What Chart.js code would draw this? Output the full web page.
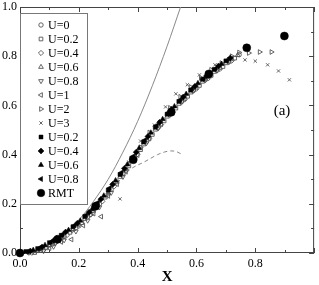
<!DOCTYPE html>
<html>
<head>
<meta charset="utf-8">
<script src="https://cdn.jsdelivr.net/npm/chart.js"></script>
<style>
  html, body { margin: 0; padding: 0; background: #fff; }
  canvas { display: block; }
</style>
</head>
<body>
<canvas id="chart" width="319" height="285"></canvas>
<script>
// ── tick labels ──────────────────────────────────────────────
const xTickLabels = ['0.0', '0.2', '0.4', '0.6', '0.8'];
const yTickLabels = ['0.0', '0.2', '0.4', '0.6', '0.8', '1.0'];

// ── open symbols ─────────────────────────────────────────────
const u0 = [[0.03,0.001],[0.07,0.012],[0.11,0.036],[0.15,0.067],[0.19,0.103],[0.23,0.147],[0.27,0.199],[0.31,0.258],[0.35,0.322],[0.39,0.388],[0.43,0.453],[0.47,0.511],[0.51,0.565],[0.55,0.616],[0.59,0.661],[0.63,0.704],[0.67,0.743],[0.71,0.777],[0.745,0.806]];
const u02 = [[0.05,0.002],[0.09,0.021],[0.13,0.050],[0.17,0.084],[0.21,0.123],[0.25,0.171],[0.29,0.227],[0.33,0.289],[0.37,0.354],[0.41,0.420],[0.45,0.482],[0.49,0.537],[0.53,0.589],[0.57,0.637],[0.61,0.681],[0.65,0.722],[0.69,0.758],[0.73,0.792]];
const u04 = [[0.04,0.001],[0.08,0.013],[0.12,0.040],[0.16,0.073],[0.20,0.110],[0.24,0.156],[0.28,0.210],[0.32,0.271],[0.36,0.336],[0.40,0.402],[0.44,0.466],[0.48,0.522],[0.52,0.574],[0.56,0.624],[0.60,0.668],[0.64,0.710],[0.68,0.748],[0.72,0.782]];
const u06 = [[0.06,0.009],[0.10,0.032],[0.14,0.062],[0.18,0.097],[0.22,0.138],[0.26,0.188],[0.30,0.246],[0.34,0.309],[0.38,0.375],[0.42,0.441],[0.46,0.501],[0.50,0.554],[0.54,0.606],[0.58,0.652],[0.62,0.696],[0.66,0.736],[0.70,0.771],[0.74,0.804]];
const u08 = [[0.08,0.008],[0.114,0.026],[0.15,0.052],[0.19,0.088],[0.23,0.132],[0.27,0.186],[0.31,0.245],[0.35,0.310],[0.39,0.378],[0.43,0.447],[0.47,0.507],[0.51,0.562],[0.55,0.614],[0.59,0.660],[0.63,0.703],[0.67,0.742],[0.71,0.777]];
const u1 = [[0.10,0.020],[0.14,0.045],[0.175,0.055],[0.215,0.112],[0.25,0.160],[0.276,0.148],[0.30,0.232],[0.33,0.280],[0.36,0.330],[0.40,0.398],[0.44,0.465],[0.48,0.524],[0.52,0.578],[0.56,0.628],[0.60,0.673],[0.64,0.716],[0.68,0.754],[0.72,0.790]];
const u2 = [[0.06,0.010],[0.12,0.042],[0.18,0.092],[0.24,0.155],[0.30,0.238],[0.36,0.340],[0.41,0.430],[0.44,0.490],[0.475,0.530],[0.51,0.590],[0.545,0.635],[0.58,0.675],[0.615,0.712],[0.65,0.745],[0.685,0.772],[0.72,0.800],[0.745,0.815],[0.778,0.813],[0.815,0.817],[0.855,0.817]];
const u3 = [[0.05,0.004],[0.10,0.025],[0.15,0.060],[0.20,0.110],[0.25,0.175],[0.30,0.245],[0.34,0.220],[0.37,0.370],[0.41,0.455],[0.457,0.520],[0.495,0.594],[0.53,0.647],[0.569,0.684],[0.61,0.724],[0.663,0.765],[0.71,0.790],[0.765,0.785],[0.80,0.780],[0.842,0.765],[0.879,0.740],[0.916,0.704]];

// ── filled symbols ───────────────────────────────────────────
const f02 = [[0.02,0.006],[0.06,0.018],[0.10,0.042],[0.14,0.072],[0.18,0.107],[0.22,0.148],[0.26,0.198],[0.30,0.256],[0.34,0.319],[0.38,0.385],[0.42,0.451],[0.46,0.511],[0.50,0.564],[0.54,0.616],[0.58,0.662],[0.62,0.706],[0.66,0.746],[0.70,0.781]];
const f04 = [[0.035,0.008],[0.075,0.024],[0.115,0.051],[0.155,0.085],[0.195,0.121],[0.235,0.166],[0.275,0.219],[0.315,0.279],[0.355,0.344],[0.395,0.410],[0.435,0.474],[0.475,0.531],[0.515,0.584],[0.555,0.634],[0.595,0.678],[0.635,0.721],[0.675,0.760],[0.715,0.793]];
const f06 = [[0.045,0.012],[0.085,0.032],[0.125,0.060],[0.165,0.093],[0.205,0.131],[0.245,0.178],[0.285,0.233],[0.325,0.295],[0.365,0.360],[0.405,0.426],[0.445,0.489],[0.485,0.544],[0.525,0.596],[0.565,0.646],[0.605,0.690],[0.645,0.731],[0.685,0.768]];
const f08 = [[0.025,0.005],[0.065,0.020],[0.105,0.045],[0.145,0.076],[0.185,0.112],[0.225,0.154],[0.265,0.205],[0.305,0.264],[0.345,0.327],[0.385,0.393],[0.425,0.459],[0.465,0.518],[0.505,0.571],[0.545,0.622],[0.585,0.668],[0.625,0.710],[0.665,0.750],[0.705,0.784]];
const rmt = [[0,0],[0.128,0.056],[0.257,0.190],[0.385,0.379],[0.514,0.572],[0.642,0.728],[0.771,0.834],[0.899,0.882]];

// ── curves ───────────────────────────────────────────────────
const solidCurve = [[0,0],[0.05,0.008],[0.10,0.034],[0.15,0.076],[0.20,0.134],[0.25,0.210],[0.30,0.300],[0.35,0.410],[0.40,0.535],[0.45,0.680],[0.50,0.840],[0.546,1.0]];
const dashedCurve = [[0.28,0.225],[0.32,0.272],[0.374,0.339],[0.424,0.371],[0.468,0.400],[0.49,0.410],[0.512,0.415],[0.53,0.413],[0.549,0.402]];

const axisColor = '#444';
const openColor = '#555';
const serif = "'Liberation Serif', 'DejaVu Serif', serif";

const pts = arr => arr.map(([x, y]) => ({ x, y }));

function openSet(label, data, style, rot, r) {
  return {
    label, data: pts(data), pointStyle: style, rotation: rot, pointRadius: r,
    borderColor: openColor, backgroundColor: 'rgba(0,0,0,0)', borderWidth: 0.9,
    clip: false, order: 50
  };
}
function filledSet(label, data, style, rot, r) {
  return {
    label, data: pts(data), pointStyle: style, rotation: rot, pointRadius: r,
    borderColor: '#000', backgroundColor: '#000', borderWidth: 0.5,
    clip: false, order: 20
  };
}

const datasets = [
  openSet('U=0', u0, 'circle', 0, 2.2),
  openSet('U=0.2', u02, 'rect', 0, 2.6),
  openSet('U=0.4', u04, 'rectRot', 0, 2.6),
  openSet('U=0.6', u06, 'triangle', 0, 2.7),
  openSet('U=0.8', u08, 'triangle', 180, 2.7),
  openSet('U=1', u1, 'triangle', -90, 2.7),
  openSet('U=2', u2, 'triangle', 90, 2.7),
  openSet('U=3', u3, 'crossRot', 0, 2.3),
  filledSet('U=0.2', f02, 'rect', 0, 2.8),
  filledSet('U=0.4', f04, 'rectRot', 0, 3),
  filledSet('U=0.6', f06, 'triangle', 0, 3),
  filledSet('U=0.8', f08, 'triangle', -90, 3),
  Object.assign(filledSet('RMT', rmt, 'circle', 0, 4), { order: 10 }),
  {
    type: 'line', data: pts(solidCurve), showLine: true, pointRadius: 0,
    borderColor: '#888', borderWidth: 1, fill: false,
    cubicInterpolationMode: 'monotone', order: 100, legendSkip: true
  },
  {
    type: 'line', data: pts(dashedCurve), showLine: true, pointRadius: 0,
    borderColor: '#888', borderWidth: 1, borderDash: [4, 3], fill: false,
    cubicInterpolationMode: 'monotone', order: 100, legendSkip: true
  }
];

// inner ticks on all four sides + box frame
const framePlugin = {
  id: 'frame',
  beforeDatasetsDraw(chart) {
    const { ctx, chartArea: a, scales: { x, y } } = chart;
    const major = v => Math.round(v * 10) % 2 === 0;
    ctx.save();
    ctx.strokeStyle = axisColor;
    ctx.lineWidth = 1;
    ctx.beginPath();
    x.ticks.forEach(t => {
      const px = Math.round(x.getPixelForValue(t.value)) + 0.5;
      const len = major(t.value) ? 5 : 3;
      ctx.moveTo(px, a.bottom); ctx.lineTo(px, a.bottom - len);
      ctx.moveTo(px, a.top); ctx.lineTo(px, a.top + len);
    });
    y.ticks.forEach(t => {
      const py = Math.round(y.getPixelForValue(t.value)) + 0.5;
      const len = major(t.value) ? 5 : 3;
      ctx.moveTo(a.left, py); ctx.lineTo(a.left + len, py);
      ctx.moveTo(a.right, py); ctx.lineTo(a.right - len, py);
    });
    ctx.stroke();
    ctx.strokeRect(a.left + 0.5, a.top + 0.5, a.right - a.left - 1, a.bottom - a.top - 1);
    ctx.restore();
  }
};

// legend box inside the plot + panel tag
const legendPlugin = {
  id: 'boxLegend',
  afterDraw(chart) {
    const { ctx, chartArea: a } = chart;
    const items = chart.data.datasets.filter(d => !d.legendSkip);
    const boxL = a.left + 0.5, boxT = 13.5, boxW = 67, rowH = 14;
    const boxH = items.length * rowH + 9;
    ctx.save();
    ctx.fillStyle = '#fff';
    ctx.strokeStyle = '#777';
    ctx.lineWidth = 1;
    ctx.fillRect(boxL, boxT, boxW, boxH);
    ctx.strokeRect(boxL, boxT, boxW, boxH);
    ctx.font = '12px ' + serif;
    ctx.textBaseline = 'middle';
    items.forEach((d, i) => {
      const cy = 25 + i * rowH;
      ctx.fillStyle = d.backgroundColor;
      ctx.strokeStyle = d.borderColor;
      ctx.lineWidth = d.borderWidth;
      Chart.helpers.drawPoint(ctx, {
        pointStyle: d.pointStyle, rotation: d.rotation,
        radius: d.label === 'RMT' ? 3.8 : d.pointRadius, borderWidth: d.borderWidth
      }, 41, cy);
      ctx.fillStyle = '#000';
      ctx.fillText(d.label, 48, cy + 0.5);
    });
    ctx.font = '15px ' + serif;
    ctx.textAlign = 'center';
    ctx.fillText('(a)', 282, 111);
    ctx.restore();
  }
};

const tickFont = { family: serif, size: 12 };
const noGrid = { display: true, drawOnChartArea: false, drawTicks: false, tickLength: 0 };

new Chart(document.getElementById('chart'), {
  type: 'scatter',
  data: { datasets },
  options: {
    responsive: false,
    animation: false,
    events: [],
    layout: { padding: { top: 7, right: 1, left: 0, bottom: 0 } },
    plugins: { legend: { display: false }, tooltip: { enabled: false } },
    scales: {
      x: {
        type: 'linear', min: 0, max: 1,
        grid: noGrid,
        border: { display: false },
        ticks: {
          stepSize: 0.1, autoSkip: false, maxRotation: 0, padding: 4,
          color: '#000', font: tickFont,
          callback: v => { const s = v.toFixed(1); return xTickLabels.includes(s) ? s : ''; }
        },
        title: {
          display: true, text: 'X', color: '#000', padding: 0,
          font: { family: serif, size: 15, weight: 'bold', lineHeight: 1 }
        },
        // keep the plot edge where the reference has it
        afterFit: s => { s.height = 32; s.paddingLeft = 0; s.paddingRight = 0; }
      },
      y: {
        type: 'linear', min: 0, max: 1,
        grid: noGrid,
        border: { display: false },
        ticks: {
          stepSize: 0.1, autoSkip: false, padding: 3,
          color: '#000', font: tickFont,
          callback: v => { const s = v.toFixed(1); return yTickLabels.includes(s) ? s : ''; }
        },
        afterFit: s => { s.width = 20; s.paddingTop = 0; s.paddingBottom = 0; }
      }
    }
  },
  plugins: [framePlugin, legendPlugin]
});
</script>
</body>
</html>
